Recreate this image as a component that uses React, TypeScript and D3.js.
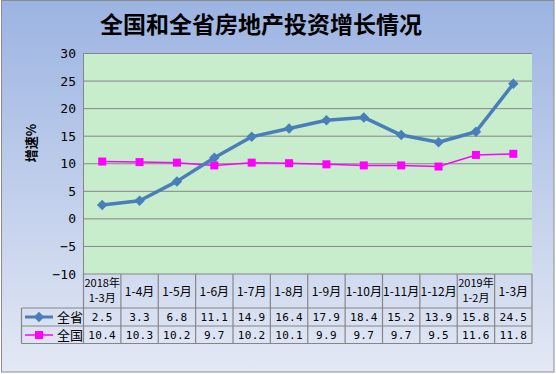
import React from "react";
import * as d3 from "d3";

const categories: string[][] = [
  ["2018年", "1-3月"], ["1-4月"], ["1-5月"], ["1-6月"], ["1-7月"], ["1-8月"],
  ["1-9月"], ["1-10月"], ["1-11月"], ["1-12月"], ["2019年", "1-2月"], ["1-3月"],
];
const provinceValues = [2.5, 3.3, 6.8, 11.1, 14.9, 16.4, 17.9, 18.4, 15.2, 13.9, 15.8, 24.5];
const nationalValues = [10.4, 10.3, 10.2, 9.7, 10.2, 10.1, 9.9, 9.7, 9.7, 9.5, 11.6, 11.8];
const yTicks = [-10, -5, 0, 5, 10, 15, 20, 25, 30];
const seriesNames = ["全省", "全国"];

const W = 556, H = 374;
const plotL = 83.5, plotR = 532, plotT = 53.5, plotB = 274;
const rowH = [34, 18, 17.5];
const legendL = 21.5;
const font = "'Noto Sans CJK SC', 'DejaVu Sans', sans-serif";
const numFont = "'DejaVu Sans Mono', 'Liberation Mono', monospace";

export default function App() {
  const x = d3.scaleBand<number>().domain(d3.range(categories.length)).range([plotL, plotR]);
  const y = d3.scaleLinear().domain([-10, 30]).range([plotB, plotT]);
  const line = d3.line<number>().x((_, i) => x(i)! + x.bandwidth() / 2).y((d) => y(d));
  const row1 = plotB + rowH[0];
  const row2 = row1 + rowH[1];
  const row3 = row2 + rowH[2];
  const blue = "#4a7ebb";
  const mag = "#ff00ff";
  const diamond = d3.symbol().type(d3.symbolDiamond2).size(70)()!;
  const grid = "#868686";
  const fmt = (v: number) => v.toFixed(1);

  return (
    <svg width={W} height={H} style={{ position: "absolute", left: 0, top: 0 }}>
      <defs>
        <linearGradient id="bg" x1="0" y1="0" x2="0" y2="1">
          <stop offset="0" stopColor="#9cb4e2" />
          <stop offset="1" stopColor="#e3e8f4" />
        </linearGradient>
      </defs>
      <rect x={1.5} y={0.5} width={552.5} height={371.5} fill="url(#bg)" stroke="#8c8c8c" strokeWidth={1} />
      <text x={261} y={33} textAnchor="middle" fontFamily={font} fontWeight="bold" fontSize={23} fill="#000">
        全国和全省房地产投资增长情况
      </text>
      <rect x={plotL} y={plotT} width={plotR - plotL} height={plotB - plotT} fill="#c7edcc" />
      {yTicks.map((t) => (
        <g key={t}>
          {t > -10 && <line x1={plotL} x2={plotR} y1={y(t)} y2={y(t)} stroke={grid} strokeWidth={1} />}
          <text x={76} y={y(t) + 4.5} textAnchor="end" fontFamily={numFont} fontSize={13} fill="#000">
            {t < 0 ? "−" + Math.abs(t) : t}
          </text>
        </g>
      ))}
      <line x1={plotL} x2={plotL} y1={plotT} y2={plotB} stroke={grid} />
      <text transform={`translate(36,143) rotate(-90)`} textAnchor="middle" fontFamily={font} fontWeight="bold" fontSize={13} fill="#000">
        增速%
      </text>
      {/* table grid */}
      <g stroke={grid} strokeWidth={1.2} fill="none">
        <line x1={plotL} x2={plotR} y1={plotB} y2={plotB} />
        <line x1={legendL} x2={plotR} y1={row1} y2={row1} />
        <line x1={legendL} x2={plotR} y1={row2} y2={row2} />
        <line x1={legendL} x2={plotR} y1={row3} y2={row3} />
        <line x1={legendL} x2={legendL} y1={row1} y2={row3} />
        {d3.range(categories.length + 1).map((i) => {
          const xx = i === categories.length ? plotR : x(i)!;
          return <line key={i} x1={xx} x2={xx} y1={plotB} y2={row3} />;
        })}
      </g>
      {categories.map((c, i) => {
        const cx = x(i)! + x.bandwidth() / 2;
        return (
          <g key={i}>
            {c.length === 1 ? (
              <text x={cx} y={plotB + 21.5} textAnchor="middle" fontFamily={font} fontSize={12} fill="#000">{c[0]}</text>
            ) : (
              <>
                <text x={cx} y={plotB + 13} textAnchor="middle" fontFamily={font} fontSize={11} fill="#000">{c[0]}</text>
                <text x={cx} y={plotB + 28} textAnchor="middle" fontFamily={font} fontSize={11} fill="#000">{c[1]}</text>
              </>
            )}
            <text x={cx} y={row1 + 13} textAnchor="middle" fontFamily={numFont} fontSize={11} fill="#000" letterSpacing={0.3}>{fmt(provinceValues[i])}</text>
            <text x={cx} y={row2 + 13} textAnchor="middle" fontFamily={numFont} fontSize={11} fill="#000" letterSpacing={0.3}>{fmt(nationalValues[i])}</text>
          </g>
        );
      })}
      {/* legend */}
      <line x1={25} x2={53} y1={row1 + 9} y2={row1 + 9} stroke={blue} strokeWidth={3} />
      <path d={diamond} transform={`translate(39,${row1 + 9})`} fill={blue} />
      <text x={57} y={row1 + 14} fontFamily={font} fontSize={13} fill="#000">{seriesNames[0]}</text>
      <line x1={25} x2={53} y1={row2 + 9} y2={row2 + 9} stroke={mag} strokeWidth={1.5} />
      <rect x={35} y={row2 + 5} width={8} height={8} fill={mag} />
      <text x={57} y={row2 + 14} fontFamily={font} fontSize={13} fill="#000">{seriesNames[1]}</text>
      {/* series */}
      <path d={line(nationalValues)!} fill="none" stroke={mag} strokeWidth={1.5} />
      {nationalValues.map((v, i) => (
        <rect key={i} x={x(i)! + x.bandwidth() / 2 - 4} y={y(v) - 4} width={8} height={8} fill={mag} />
      ))}
      <path d={line(provinceValues)!} fill="none" stroke={blue} strokeWidth={3.5} strokeLinejoin="round" />
      {provinceValues.map((v, i) => (
        <path key={i} d={diamond} transform={`translate(${x(i)! + x.bandwidth() / 2},${y(v)})`} fill={blue} />
      ))}
    </svg>
  );
}
